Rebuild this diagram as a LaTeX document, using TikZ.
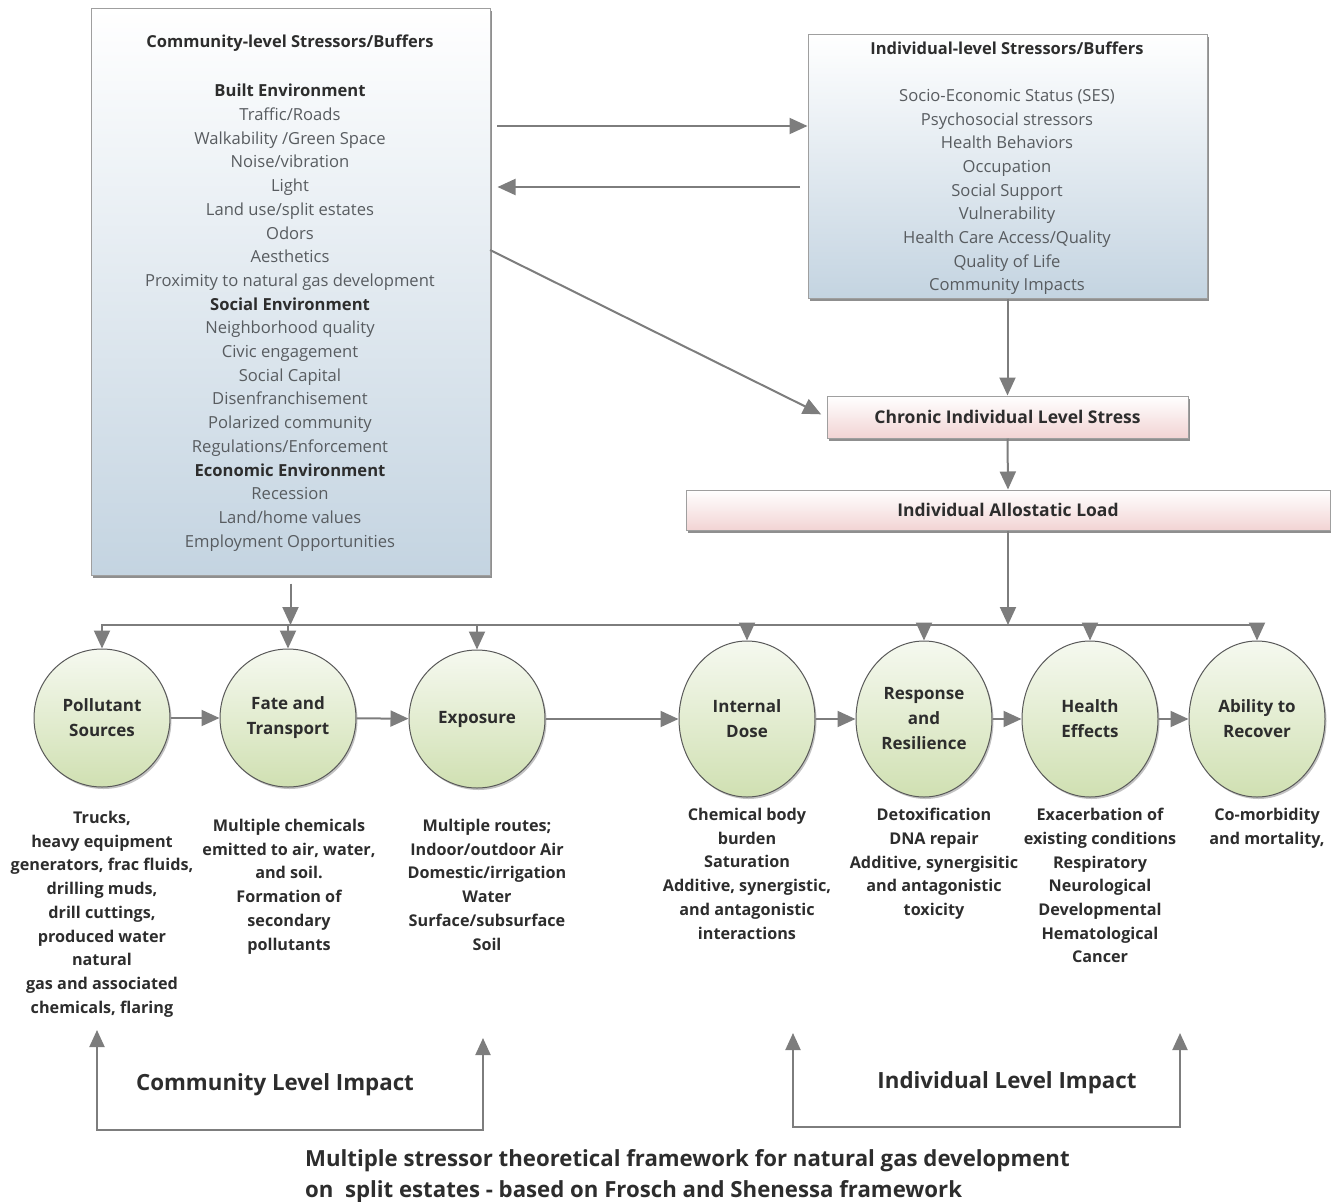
\documentclass[tikz,border=0pt]{standalone}
\usepackage{fontspec}
\setmainfont{Open Sans}
\usetikzlibrary{arrows.meta,shadows,shapes.geometric}
\definecolor{linegray}{RGB}{125,125,125}
\definecolor{boxblue}{RGB}{196,212,225}
\definecolor{boxpink}{RGB}{242,212,212}
\definecolor{ballgreen}{RGB}{208,224,178}
\definecolor{darktext}{RGB}{45,45,45}
\definecolor{softtext}{RGB}{88,92,96}
\tikzset{
    conn/.style={draw=linegray,line width=2pt,-{Triangle[length=18pt,width=16pt]}},
    bracket/.style={draw=linegray,line width=2pt,{Triangle[length=17pt,width=15pt]}-{Triangle[length=17pt,width=15pt]}},
    bigbox/.style={draw=gray!75,line width=1pt,top color=white,bottom color=boxblue,
        drop shadow={shadow xshift=2pt,shadow yshift=-3pt,fill=black!55,opacity=0.8}},
    flatbox/.style={draw=gray!75,line width=1pt,top color=white,bottom color=boxpink,
        font=\fontsize{17.5}{20}\selectfont\bfseries,text=darktext,
        drop shadow={shadow xshift=2pt,shadow yshift=-3pt,fill=black!55,opacity=0.8}},
    ball/.style={ellipse,draw=gray!70!black,line width=1pt,top color=ballgreen!20,bottom color=ballgreen,
        minimum width=136pt,minimum height=138pt,inner sep=0pt,align=center,
        font=\fontsize{17}{25}\selectfont\bfseries,text=darktext,
        drop shadow={shadow xshift=1.5pt,shadow yshift=-2pt,fill=black!40,opacity=0.6}},
    tallball/.style={ball,minimum height=156pt},
    boxtitle/.style={font=\fontsize{16.5}{20}\selectfont\bfseries,text=darktext},
    boxlist/.style={align=center,inner sep=0pt,font=\fontsize{16.6}{23.7}\selectfont,text=softtext},
    note/.style={align=center,inner sep=0pt,anchor=north,font=\fontsize{16.2}{23.7}\selectfont\bfseries,text=darktext},
    impact/.style={font=\fontsize{22.3}{26}\selectfont\bfseries,text=darktext},
}
\begin{document}
\begin{tikzpicture}[x=1pt,y=-1pt]
        \useasboundingbox (0,0) rectangle (1331,1202);
        \node[bigbox,minimum width=399pt,minimum height=567pt] (commbox) at (290.5,291.5) {};
        \node[boxtitle] (commtitle) at (290,43) {Community-level Stressors/Buffers};
        \node[boxlist,anchor=north] (commlist) at (290,84) {\textbf{\color{darktext}Built Environment}\\Traffic/Roads\\Walkability /Green Space\\Noise/vibration\\Light\\Land use/split estates\\Odors\\Aesthetics\\Proximity to natural gas development\\\textbf{\color{darktext}Social Environment}\\Neighborhood quality\\Civic engagement\\Social Capital\\Disenfranchisement\\Polarized community\\Regulations/Enforcement\\\textbf{\color{darktext}Economic Environment}\\Recession\\Land/home values\\Employment Opportunities};
        \node[bigbox,minimum width=399pt,minimum height=264pt] (indbox) at (1007.5,166) {};
        \node[boxtitle] (indtitle) at (1007,48) {Individual-level Stressors/Buffers};
        \node[boxlist,anchor=north] (indlist) at (1007,89) {Socio-Economic Status (SES)\\Psychosocial stressors\\Health Behaviors\\Occupation\\Social Support\\Vulnerability\\Health Care Access/Quality\\Quality of Life\\Community Impacts};
        \node[flatbox,minimum width=361pt,minimum height=42pt] (chron) at (1007.5,417) {Chronic Individual Level Stress};
        \node[flatbox,minimum width=644pt,minimum height=40pt] (allo) at (1008,510) {Individual Allostatic Load};
        \coordinate (toright) at (497,126);
        \coordinate (toleft) at (800,187);
        \coordinate (todiag) at (490,250);
        \draw[conn] (toright) -- (toright -| indbox.west);
        \draw[conn,shorten >=7pt] (toleft) -- (toleft -| commbox.east);
        \draw[conn,shorten >=6pt] (todiag) -- (chron.west);
        \draw[conn] (indbox.south) -- (chron.north);
        \draw[conn] (chron.south) -- (allo.north);
        \node[ball] (ps) at (102,718) {Pollutant\\Sources};
        \node[ball] (ft) at (288,718) {Fate and\\Transport};
        \node[ball] (ex) at (477,719) {Exposure};
        \node[tallball] (id) at (747,719) {Internal\\Dose};
        \node[tallball] (rr) at (924,719) {Response\\and\\Resilience};
        \node[tallball] (he) at (1090,719) {Health\\Effects};
        \node[tallball] (ar) at (1257,719) {Ability to\\Recover};
        \coordinate (busleft) at (101,625);
        \coordinate (busright) at (1258,625);
        \draw[linegray,line width=2pt] (busleft) -- (busright);
        \draw[conn,shorten <=8pt] (commbox.south) -- (commbox.south |- busleft);
        \draw[conn] (allo.south) -- (allo.south |- busleft);
        \foreach \b in {ps,ft,ex,id,rr,he,ar}
            \draw[conn] (\b.north |- busleft) -- (\b.north);
        \draw[conn] (ps) -- (ft);
        \draw[conn] (ft) -- (ex);
        \draw[conn] (ex) -- (id);
        \draw[conn] (id) -- (rr);
        \draw[conn] (rr) -- (he);
        \draw[conn] (he) -- (ar);
        \node[note] (psnote) at (102,811) {Trucks,\\heavy equipment\\generators, frac fluids,\\drilling muds,\\drill cuttings,\\produced water\\natural\\gas and associated\\chemicals, flaring};
        \node[note] (ftnote) at (289,819) {Multiple chemicals\\emitted to air, water,\\and soil.\\Formation of\\secondary\\pollutants};
        \node[note] (exnote) at (487,819) {Multiple routes;\\Indoor/outdoor Air\\Domestic/irrigation\\Water\\Surface/subsurface\\Soil};
        \node[note] (idnote) at (747,808) {Chemical body\\burden\\Saturation\\Additive, synergistic,\\and antagonistic\\interactions};
        \node[note] (rrnote) at (934,808) {Detoxification\\DNA repair\\Additive, synergisitic\\and antagonistic\\toxicity};
        \node[note] (henote) at (1100,808) {Exacerbation of\\existing conditions\\Respiratory\\Neurological\\Developmental\\Hematological\\Cancer};
        \node[note] (arnote) at (1267,808) {Co-morbidity\\and mortality,};
        \coordinate (commtl) at (97,1030);
        \coordinate (commbl) at (97,1130);
        \coordinate (commbr) at (483,1130);
        \coordinate (commtr) at (483,1038);
        \draw[bracket] (commtl) -- (commbl) -- (commbr) -- (commtr);
        \coordinate (indtl) at (793,1033);
        \coordinate (indbl) at (793,1127);
        \coordinate (indbr) at (1180,1127);
        \coordinate (indtr) at (1180,1033);
        \draw[bracket] (indtl) -- (indbl) -- (indbr) -- (indtr);
        \node[impact] (commimpact) at (275,1085) {Community Level Impact};
        \node[impact] (indimpact) at (1007,1083) {Individual Level Impact};
        \node[impact,font=\fontsize{22.2}{31}\selectfont\bfseries,align=left,anchor=north west,inner sep=0pt] (caption) at (305,1149) {Multiple stressor theoretical framework for natural gas development\\on\ \ split estates - based on Frosch and Shenessa framework};
    \end{tikzpicture}
\end{document}
